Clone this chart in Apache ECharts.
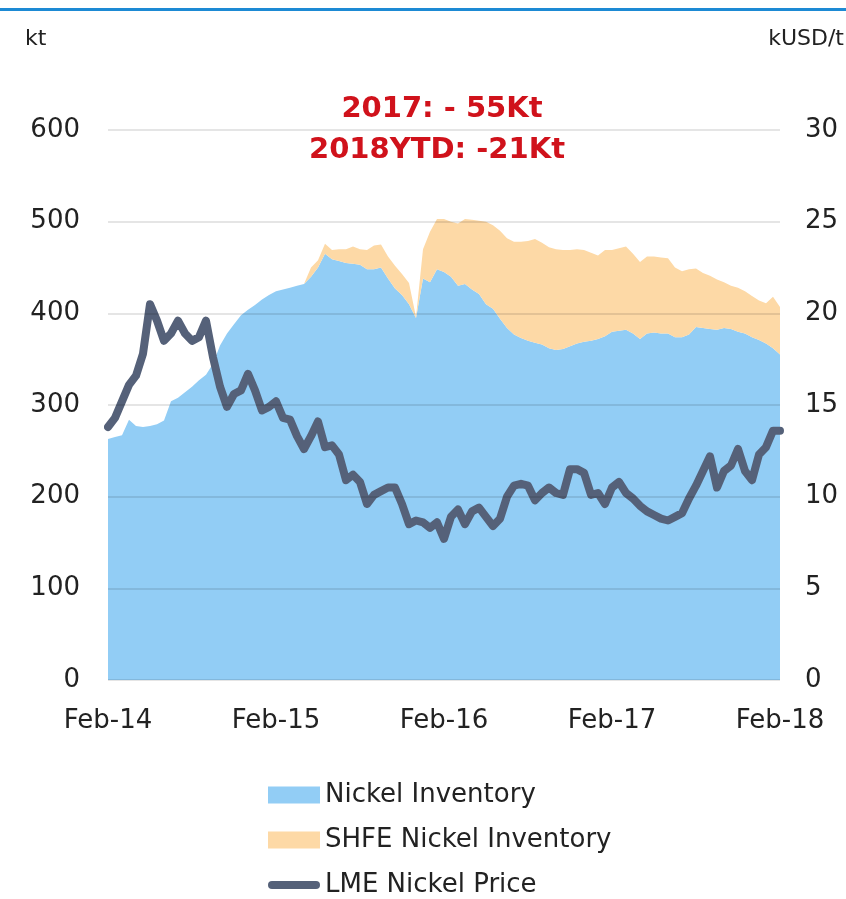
<!DOCTYPE html>
<html>
<head>
<meta charset="utf-8">
<style>
  html, body { margin: 0; padding: 0; background: #fff; }
  #chart { width: 846px; height: 899px; }
</style>
<script src="https://cdn.jsdelivr.net/npm/echarts@6/dist/echarts.min.js"></script>
</head>
<body>
<div id="chart"></div>
<script>
// semi-monthly readings, Feb-14 .. Feb-18 (97 points)
const yearLabels = ['Feb-14', 'Feb-15', 'Feb-16', 'Feb-17', 'Feb-18']

// Nickel Inventory, kt
const inventory = [
  263, 265, 267, 284, 277, 276, 277, 279, 283, 304,
  308, 314, 320, 327, 333, 345, 365, 378, 388, 398,
  404, 409, 415, 420, 424, 426, 428, 430, 432, 440,
  450, 465, 459, 457, 455, 454, 453, 448, 448, 450,
  438, 427, 420, 410, 395, 438, 434, 448, 445, 440,
  430, 432, 426, 421, 410, 405, 394, 384, 377, 373,
  370, 368, 366, 362, 360, 361, 364, 367, 369, 370,
  372, 375, 380, 381, 382, 378, 372, 378, 379, 378,
  378, 374, 374, 377, 385, 384, 383, 382, 384, 383,
  380, 378, 374, 371, 367, 362, 355
]

// SHFE Nickel Inventory, kt (stacked on top)
const shfe = [
  0, 0, 0, 0, 0, 0, 0, 0, 0, 0,
  0, 0, 0, 0, 0, 0, 0, 0, 0, 0,
  0, 0, 0, 0, 0, 0, 0, 0, 0, 10,
  8, 11, 10, 13, 15, 19, 17, 21, 26, 25,
  24, 25, 23, 23, 1, 32, 55, 55, 58, 60,
  68, 71, 76, 80, 90, 91, 96, 98, 101, 105,
  109, 113, 111, 110, 110, 108, 105, 103, 100, 96,
  91, 94, 89, 90, 91, 87, 84, 84, 83, 83,
  82, 76, 72, 71, 64, 60, 58, 55, 50, 47,
  48, 46, 45, 43, 44, 56, 52
]

// LME Nickel Price, kUSD/t
const price = [
  13.8, 14.3, 15.2, 16.1, 16.6, 17.8, 20.5, 19.6, 18.5, 18.9,
  19.6, 18.9, 18.5, 18.7, 19.6, 17.6, 16.0, 14.9, 15.6, 15.8,
  16.7, 15.8, 14.7, 14.9, 15.2, 14.3, 14.2, 13.3, 12.6, 13.3,
  14.1, 12.7, 12.8, 12.3, 10.9, 11.2, 10.8, 9.6, 10.1, 10.3,
  10.5, 10.5, 9.6, 8.5, 8.7, 8.6, 8.3, 8.6, 7.7, 8.9,
  9.3, 8.5, 9.2, 9.4, 8.9, 8.4, 8.8, 10.0, 10.6, 10.7,
  10.6, 9.8, 10.2, 10.5, 10.2, 10.1, 11.5, 11.5, 11.3, 10.1,
  10.2, 9.6, 10.5, 10.8, 10.2, 9.9, 9.5, 9.2, 9.0, 8.8,
  8.7, 8.9, 9.1, 9.9, 10.6, 11.4, 12.2, 10.5, 11.4, 11.7,
  12.6, 11.4, 10.9, 12.3, 12.7, 13.6, 13.6
]

// category names: two per month, only the Feb ones get shown
const months = ['Feb', 'Mar', 'Apr', 'May', 'Jun', 'Jul', 'Aug', 'Sep', 'Oct', 'Nov', 'Dec', 'Jan']
const periods = price.map((v, i) => {
  const m = Math.floor(i / 2)
  const yy = 14 + Math.floor((m + 11) / 12)
  return months[m % 12] + '-' + yy + (i % 2 ? ' H2' : '')
})

const fontFamily = '"DejaVu Sans", Verdana, sans-serif'
const chart = echarts.init(document.getElementById('chart'))

const option = {
  animation: false,
  textStyle: { fontFamily: fontFamily },
  grid: {
    left: 108,
    right: 66,
    top: 130,
    bottom: 219,
    outerBoundsMode: 'none'
  },
  legend: {
    orient: 'vertical',
    left: 268,
    top: 782,
    padding: 0,
    itemWidth: 52,
    itemHeight: 17,
    itemGap: 19,
    textStyle: { fontSize: 26, color: '#222', fontFamily: fontFamily, padding: [0, 0, 0, 0] },
    data: [
      { name: 'Nickel Inventory', icon: 'rect' },
      { name: 'SHFE Nickel Inventory', icon: 'rect' },
      { name: 'LME Nickel Price', icon: 'path://M4,0 L48,0 A4,4 0 0 1 48,8 L4,8 A4,4 0 0 1 4,0 Z' }
    ]
  },
  xAxis: {
    type: 'category',
    data: periods,
    boundaryGap: false,
    axisLine: { show: false },
    axisTick: { show: false },
    splitLine: { show: false },
    axisLabel: {
      interval: 23,
      fontSize: 26,
      color: '#222',
      margin: 28,
      formatter: (v, i) => yearLabels[i / 24]
    }
  },
  yAxis: [
    {
      type: 'value',
      min: 0,
      max: 600,
      interval: 100,
      z: 5,
      axisLine: { show: false },
      axisTick: { show: false },
      axisLabel: { fontSize: 26, color: '#222', margin: 28 },
      splitLine: { lineStyle: { color: 'rgba(0,0,0,0.1)', width: 2 } }
    },
    {
      type: 'value',
      min: 0,
      max: 30,
      interval: 5,
      axisLine: { show: false },
      axisTick: { show: false },
      axisLabel: { fontSize: 26, color: '#222', margin: 25 },
      splitLine: { show: false }
    }
  ],
  series: [
    {
      name: 'Nickel Inventory',
      type: 'line',
      stack: 'inv',
      symbol: 'none',
      yAxisIndex: 0,
      data: inventory,
      itemStyle: { color: '#92cdf5' },
      lineStyle: { width: 0 },
      areaStyle: { color: '#92cdf5', opacity: 1 }
    },
    {
      name: 'SHFE Nickel Inventory',
      type: 'line',
      stack: 'inv',
      symbol: 'none',
      yAxisIndex: 0,
      data: shfe,
      itemStyle: { color: '#fdd9a6' },
      lineStyle: { width: 0 },
      areaStyle: { color: '#fdd9a6', opacity: 1 }
    },
    {
      name: 'LME Nickel Price',
      type: 'line',
      symbol: 'none',
      yAxisIndex: 1,
      data: price,
      itemStyle: { color: '#556179' },
      lineStyle: { width: 8, color: '#556179', cap: 'round', join: 'round' },
      z: 4
    }
  ],
  graphic: [
    // blue rule at the top
    { type: 'rect', left: 0, top: 8, shape: { width: 846, height: 3 }, style: { fill: '#1d8ad4' } },
    { type: 'text', left: 25, top: 28, style: { text: 'kt', fill: '#222', font: '22px ' + fontFamily } },
    { type: 'text', right: 2, top: 28, style: { text: 'kUSD/t', fill: '#222', font: '22px ' + fontFamily } },
    {
      type: 'text', x: 442, y: 109, z: 10,
      style: { text: '2017: - 55Kt', align: 'center', verticalAlign: 'middle', fill: '#d0121b', font: 'bold 29px ' + fontFamily }
    },
    {
      type: 'text', x: 437, y: 150, z: 10,
      style: { text: '2018YTD: -21Kt', align: 'center', verticalAlign: 'middle', fill: '#d0121b', font: 'bold 29px ' + fontFamily }
    }
  ]
}

chart.setOption(option)
</script>
</body>
</html>
